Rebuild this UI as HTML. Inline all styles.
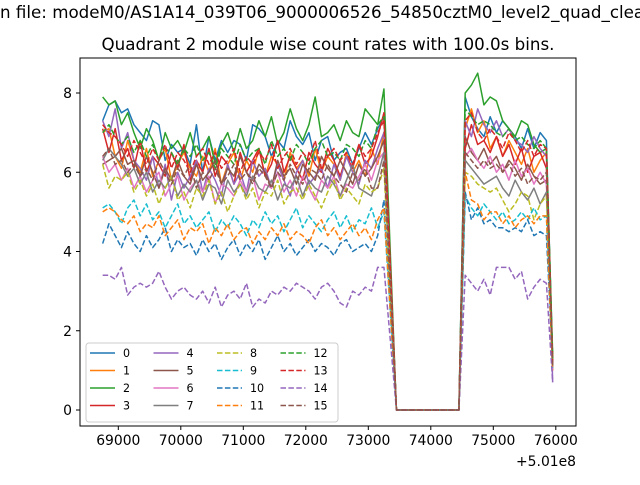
<!DOCTYPE html>
<html><head><meta charset="utf-8"><style>
body{margin:0;background:#fff;}
svg{font-family:"DejaVu Sans","Liberation Sans",sans-serif;}
</style></head><body>
<svg id="chart" width="640" height="480" viewBox="0 0 640 480">
<rect width="640" height="480" fill="#fff"/>
<text x="0" y="18" font-size="16.7">n file: modeM0/AS1A14_039T06_9000006526_54850cztM0_level2_quad_clean.evt</text>
<text x="328" y="50" font-size="16.7" text-anchor="middle">Quadrant 2 module wise count rates with 100.0s bins.</text>
<g id="plot"></g>
</svg>
<script>
const seg1 = [
[7.3,7.7,7.8,7.5,7.6,7.2,7.0,6.8,7.3,7.2,6.3,6.7,6.5,6.6,6.2,7.2,6.0,6.9,6.3,6.8,6.5,6.8,6.7,6.3,7.2,7.1,6.9,6.4,6.8,6.6,7.3,6.9,6.7,7.0,6.3,6.8,6.9,6.3,6.5,6.6,6.2,6.6,7.0,6.7,7.1,7.4],
[7.0,7.1,6.4,6.1,6.8,6.3,6.0,6.6,5.9,6.3,6.6,5.8,6.2,6.5,6.1,5.9,6.4,6.0,6.6,5.7,6.2,6.5,5.8,6.3,6.0,6.6,5.9,6.4,6.2,5.8,6.5,6.1,6.3,5.9,6.6,6.0,6.4,6.2,5.8,6.5,6.0,6.3,5.9,6.6,6.2,7.0],
[7.9,7.7,7.8,7.2,7.5,7.0,6.6,7.1,6.8,6.3,7.0,6.6,6.8,6.5,7.0,6.4,6.6,6.9,6.2,6.7,7.0,6.5,7.1,6.6,6.8,7.3,6.9,7.4,6.7,7.0,7.6,7.1,6.8,7.2,7.9,6.9,7.0,7.2,6.8,7.3,7.0,6.9,7.6,7.4,7.2,8.1],
[7.1,6.5,7.1,6.3,6.6,6.1,6.8,6.0,6.4,6.2,5.9,6.5,6.1,6.7,5.8,6.3,6.0,6.6,5.9,6.4,6.2,5.7,6.5,6.0,6.3,6.6,5.9,6.2,6.8,6.0,6.4,6.1,5.8,6.5,6.2,6.0,6.6,6.3,5.9,6.4,6.1,6.7,6.2,6.4,6.9,7.5],
[7.3,6.9,7.6,6.6,7.0,6.3,6.1,5.8,6.4,5.6,6.2,5.3,6.0,5.6,5.9,6.3,5.5,6.1,5.8,5.4,6.2,5.7,6.0,5.5,6.3,5.9,6.1,5.6,6.2,5.8,5.4,6.0,6.3,5.7,5.9,6.1,5.6,6.2,5.8,6.4,6.0,5.7,6.3,6.1,6.6,7.0],
[6.2,6.3,6.4,6.6,6.2,6.3,5.9,6.4,6.0,5.6,6.1,5.8,6.3,5.9,5.7,6.2,5.8,6.0,6.3,5.7,6.1,5.9,6.4,6.0,5.8,6.2,6.0,5.6,6.3,5.9,6.1,5.7,6.2,6.0,5.8,6.4,6.1,5.9,6.3,6.0,5.7,6.2,5.9,6.1,6.4,6.8],
[6.4,6.0,6.2,5.8,6.1,5.6,5.9,5.5,5.8,6.0,5.4,5.7,5.9,5.3,5.6,5.8,5.5,5.9,5.2,5.7,5.6,5.4,5.8,5.5,5.9,5.3,5.7,5.6,6.0,5.5,5.8,5.4,5.9,5.6,5.3,5.8,5.6,5.9,5.4,5.7,5.6,5.9,6.2,5.8,6.3,6.5],
[6.3,6.6,6.4,6.2,5.9,6.1,5.7,6.0,5.5,5.8,5.6,5.9,5.4,5.7,5.5,5.8,5.3,5.7,5.6,5.2,5.8,5.5,5.7,5.4,5.9,5.6,5.5,5.8,5.3,5.7,5.6,5.9,5.4,5.8,5.6,5.5,5.9,5.7,5.4,5.8,6.2,5.6,5.5,5.4,5.9,6.5],
[6.2,5.6,5.9,5.8,6.0,5.5,5.8,5.4,5.7,5.2,5.6,5.9,5.3,5.5,5.1,5.6,5.4,5.8,5.2,5.5,5.0,5.4,5.7,5.3,5.6,5.1,5.5,5.4,5.8,5.2,5.5,5.6,5.3,5.7,5.4,5.1,5.5,5.8,5.3,5.6,5.4,5.2,5.7,5.5,5.6,6.1],
[5.1,5.2,5.0,4.7,5.1,5.3,4.9,5.2,4.8,5.0,4.6,4.9,5.2,4.7,4.9,4.6,4.8,5.0,4.5,4.8,4.6,4.9,4.7,4.4,4.8,4.6,5.0,4.7,4.9,4.5,4.8,5.1,4.6,4.9,4.7,4.5,4.8,5.0,4.6,4.9,4.5,4.8,4.7,5.1,4.6,5.0],
[4.2,4.7,4.4,4.1,4.5,4.2,4.0,4.4,4.1,4.3,4.6,4.0,4.3,4.1,4.2,3.9,4.3,4.0,4.2,3.8,4.1,4.3,3.9,4.2,4.0,4.3,3.8,4.1,4.4,4.0,4.2,3.9,4.1,4.3,4.0,4.2,4.1,3.9,4.2,4.3,4.0,4.1,4.2,4.0,4.4,5.3],
[5.0,5.1,5.0,4.8,4.7,4.9,4.5,4.7,4.6,4.9,4.4,4.6,4.8,4.3,4.6,4.5,4.7,4.2,4.6,4.4,4.7,4.3,4.5,4.6,4.2,4.5,4.3,4.6,4.4,4.7,4.3,4.5,4.4,4.2,4.6,4.8,4.4,4.6,4.3,4.5,4.7,4.4,4.6,4.3,4.8,5.1],
[7.0,7.2,6.9,6.7,6.9,6.5,6.8,6.4,6.7,6.3,6.6,6.5,6.2,6.6,6.4,6.7,6.3,6.5,6.1,6.6,6.4,6.2,6.7,6.3,6.5,6.6,6.2,6.8,6.4,6.6,6.3,6.7,6.5,6.2,6.6,6.8,6.4,6.5,6.3,6.7,6.6,6.4,6.8,6.6,7.2,7.4],
[7.2,7.0,6.9,6.7,6.4,6.8,6.5,6.2,6.6,6.3,6.7,6.1,6.5,6.3,6.0,6.4,6.6,6.2,6.5,6.1,6.3,6.6,6.0,6.4,6.2,6.5,6.3,6.7,6.1,6.4,6.6,6.2,6.5,6.3,6.8,6.1,6.4,6.6,6.3,6.5,6.2,6.7,6.4,6.6,7.0,7.3],
[3.4,3.4,3.3,3.6,2.9,3.1,3.2,3.1,3.2,3.5,3.1,2.8,3.0,3.1,2.9,2.8,3.0,2.7,3.1,2.6,2.9,3.0,2.8,3.2,2.6,2.8,2.7,3.0,2.9,3.1,3.0,3.2,3.1,3.0,2.8,3.1,3.2,3.0,2.7,2.6,3.0,2.9,3.1,3.0,3.6,3.6],
[6.4,6.6,6.2,6.3,6.0,6.2,5.9,6.1,5.8,6.3,6.0,5.7,6.1,5.9,6.2,5.6,6.0,5.8,6.1,5.7,5.9,6.2,5.8,6.0,5.7,6.1,5.9,5.6,6.0,5.8,6.2,5.9,5.7,6.1,6.0,5.8,6.2,5.9,5.7,5.5,6.0,5.8,6.1,5.6,5.6,6.3]
];
const seg2 = [
[7.9,7.4,7.1,6.9,7.4,7.0,7.3,7.1,6.9,6.6,7.1,6.6,7.0,6.8,1.2],
[7.1,7.6,7.0,7.3,6.6,6.9,6.4,6.8,6.5,6.2,6.6,6.0,6.3,6.5,1.0],
[8.0,8.2,8.5,7.7,7.9,7.8,7.3,7.1,6.9,7.3,7.2,6.7,6.5,6.6,1.4],
[6.6,7.2,6.7,6.8,6.5,6.9,6.4,6.7,6.2,6.6,6.0,6.4,6.5,6.1,1.1],
[7.3,6.9,7.6,7.2,7.0,7.3,6.9,7.1,6.8,6.7,6.5,6.9,6.6,6.4,0.7],
[6.9,6.5,6.3,6.6,6.2,6.4,6.0,6.3,6.1,5.8,6.2,5.9,5.7,5.8,1.3],
[6.4,6.6,6.3,6.1,6.4,6.0,6.2,5.8,6.3,5.9,6.1,5.7,6.0,5.7,1.0],
[6.3,6.1,5.9,5.7,5.8,5.9,5.6,5.4,5.8,5.5,5.3,5.6,5.2,5.5,1.1],
[6.0,5.9,5.7,5.6,5.5,5.6,5.3,5.0,5.2,5.5,5.4,4.8,5.2,5.4,1.3],
[5.4,5.1,4.9,5.2,5.0,4.8,5.0,4.7,4.8,5.0,4.8,5.1,4.8,4.9,1.0],
[5.5,4.8,5.1,4.7,4.8,4.6,4.6,4.5,4.6,4.5,4.8,4.4,4.5,4.4,1.2],
[6.0,5.3,5.2,4.8,5.0,5.0,4.7,4.9,4.6,4.8,4.9,4.7,4.9,4.9,1.0],
[7.6,7.4,7.2,7.3,7.2,7.0,6.9,7.1,6.8,6.9,6.7,6.6,6.8,6.6,1.3],
[7.3,7.5,7.0,6.8,7.1,6.9,6.6,7.0,6.8,6.5,6.8,6.4,6.7,6.6,1.2],
[3.4,3.2,3.0,3.3,2.9,3.6,3.6,3.6,3.3,3.5,2.8,3.1,3.3,3.2,0.7],
[6.5,6.3,6.1,6.3,6.1,6.2,6.0,6.2,5.9,6.1,5.7,5.9,5.8,6.0,1.1]
];
const seg1Start = 68750, gapStart = 73450, gapEnd = 74450, seg2Start = 74550, binSize = 100;
const xTicks = [69000,70000,71000,72000,73000,74000,75000,76000];
const xTickLabels = ["69000","70000","71000","72000","73000","74000","75000","76000"];
const yTicks = [0,2,4,6,8];
const seriesLabels = ["0","1","2","3","4","5","6","7","8","9","10","11","12","13","14","15"];

const colors = ["#1f77b4","#ff7f0e","#2ca02c","#d62728","#9467bd","#8c564b","#e377c2","#7f7f7f","#bcbd22","#17becf","#1f77b4","#ff7f0e","#2ca02c","#d62728","#9467bd","#8c564b"];
const L=80,R=576,T=58,B=426;
const X=v=>118.3+(v-69000)*0.0625;
const Y=v=>410-v*39.625;
const NS="http://www.w3.org/2000/svg";
const g=document.getElementById('plot');
function mk(tag,attrs,parent){const e=document.createElementNS(NS,tag);for(const k in attrs)e.setAttribute(k,attrs[k]);(parent||g).appendChild(e);return e;}

const clip=mk('clipPath',{id:'cp'});mk('rect',{x:L,y:T,width:R-L,height:B-T},clip);
const lines=mk('g',{'clip-path':'url(#cp)'});


for(let s=0;s<16;s++){
  const pts=[];
  seg1[s].forEach((v,i)=>pts.push([seg1Start+i*binSize,v]));
  for(let t=gapStart;t<=gapEnd;t+=binSize)pts.push([t,0]);
  seg2[s].forEach((v,i)=>pts.push([seg2Start+i*binSize,v]));
  const d=pts.map((p,i)=>(i?'L':'M')+X(p[0]).toFixed(2)+','+Y(p[1]).toFixed(2)).join('');
  const p=mk('path',{d:d,fill:'none',stroke:colors[s],'stroke-width':1.5,'stroke-linejoin':'round'},lines);
  if(s>=8)p.setAttribute('stroke-dasharray','5.5,2.4');
  
  
}
const frame=mk('rect',{x:L,y:T,width:R-L,height:B-T,fill:'none',stroke:'#000','stroke-width':1});


xTicks.forEach((v,i)=>{
  mk('line',{x1:X(v),x2:X(v),y1:B,y2:B+4,stroke:'#000'});
  const t=mk('text',{x:X(v),y:B+19,'font-size':13.9,'text-anchor':'middle'});t.textContent=xTickLabels[i];
  
  
});
const off=mk('text',{x:576,y:466,'font-size':13.9,'text-anchor':'end'});off.textContent='+5.01e8';


yTicks.forEach(v=>{
  mk('line',{x1:L-4,x2:L,y1:Y(v),y2:Y(v),stroke:'#000'});
  const t=mk('text',{x:L-8,y:Y(v)+5,'font-size':13.9,'text-anchor':'end'});t.textContent=String(v);
  
  
});
const lg=mk('g',{});


mk('rect',{x:86,y:343,width:252,height:79,rx:3,fill:'#fff','fill-opacity':0.8,stroke:'#ccc'},lg);
for(let s=0;s<16;s++){
  const col=Math.floor(s/4),row=s%4;
  const x0=90+col*63.5,y0=353+row*17.5;
  const ln=mk('line',{x1:x0,x2:x0+25,y1:y0,y2:y0,stroke:colors[s],'stroke-width':1.5},lg);
  if(s>=8)ln.setAttribute('stroke-dasharray','5.5,2.4');
  const t=mk('text',{x:x0+33,y:y0+4,'font-size':11.1},lg);t.textContent=seriesLabels[s];
  
  
}
</script>
</body></html>
